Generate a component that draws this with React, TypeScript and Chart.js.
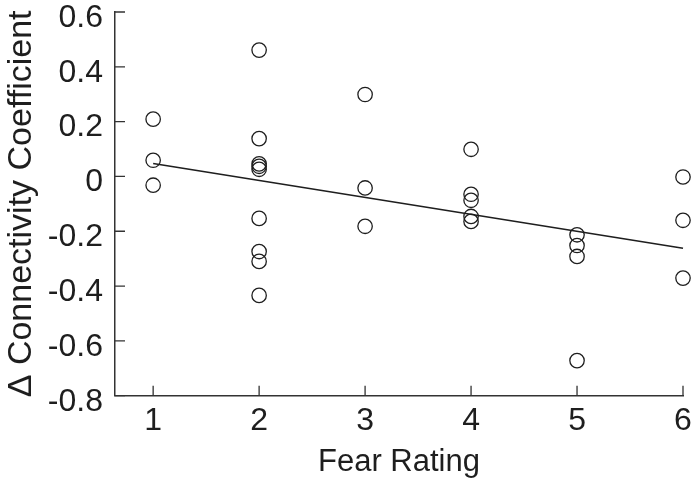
import React, { useEffect, useRef } from "react";
import { Chart, registerables } from "chart.js";

Chart.register(...registerables);

// Fear rating (x) and change in connectivity coefficient (y) per subject
const fear1 = [0.209, 0.059, -0.032];
const fear2 = [0.461, 0.138, 0.046, 0.037, 0.026, -0.153, -0.274, -0.31, -0.434];
const fear3 = [0.299, -0.042, -0.182];
const fear4 = [0.099, -0.065, -0.087, -0.146, -0.164];
const fear5 = [-0.213, -0.252, -0.292, -0.672];
const fear6 = [-0.002, -0.16, -0.371];
const fearRatings = [1, 2, 3, 4, 5, 6];

// Regression line end points
const fitX = [1, 6];
const fitY = [0.047, -0.262];

const xTicks = [1, 2, 3, 4, 5, 6];
const yTicks = [-0.8, -0.6, -0.4, -0.2, 0, 0.2, 0.4, 0.6];

const xTitle = "Fear Rating";
const yTitle = "\u0394 Connectivity Coefficient";

const INK = "#1e1e1e";
const AXIS = "#333333";
const FONT = "'Liberation Sans', Arial, sans-serif";

const inwardTicks = {
  id: "inwardTicks",
  afterDraw(chart: any) {
    const { ctx, chartArea, scales } = chart;
    ctx.save();
    ctx.strokeStyle = AXIS;
    ctx.lineWidth = 1.3;
    ctx.beginPath();
    for (const v of xTicks) {
      const px = scales.x.getPixelForValue(v);
      ctx.moveTo(px, chartArea.bottom);
      ctx.lineTo(px, chartArea.bottom - 10);
    }
    for (const v of yTicks) {
      const py = scales.y.getPixelForValue(v);
      ctx.moveTo(chartArea.left, py);
      ctx.lineTo(chartArea.left + 10, py);
    }
    ctx.stroke();
    ctx.restore();
  },
};

export default function App() {
  const ref = useRef<HTMLCanvasElement | null>(null);

  useEffect(() => {
    if (!ref.current) return;
    const groups = [fear1, fear2, fear3, fear4, fear5, fear6];
    const points: { x: number; y: number }[] = [];
    groups.forEach((g, i) => g.forEach((y) => points.push({ x: fearRatings[i], y })));
    const fit = fitX.map((x, i) => ({ x, y: fitY[i] }));

    const chart = new Chart(ref.current, {
      type: "scatter",
      data: {
        datasets: [
          {
            type: "line",
            data: fit,
            borderColor: INK,
            borderWidth: 1.6,
            pointRadius: 0,
            fill: false,
            clip: false,
          } as any,
          {
            type: "scatter",
            data: points,
            pointStyle: "circle",
            pointRadius: 7.2,
            pointBorderWidth: 1.3,
            borderColor: INK,
            backgroundColor: "rgba(0,0,0,0)",
            clip: false,
          } as any,
        ],
      },
      options: {
        animation: false,
        responsive: false,
        events: [],
        layout: { padding: { top: 12, right: 17, bottom: 0, left: 0 } },
        plugins: { legend: { display: false }, tooltip: { enabled: false } },
        scales: {
          x: {
            type: "linear",
            min: 0.64,
            max: 6,
            grid: { display: false, drawTicks: false },
            border: { display: true, color: AXIS, width: 1.5 },
            afterBuildTicks: (s: any) => {
              s.ticks = xTicks.map((v) => ({ value: v }));
            },
            afterFit: (s: any) => {
              s.height = 85.3;
              s.paddingLeft = 0;
              s.paddingRight = 0;
            },
            ticks: {
              color: INK,
              padding: 6,
              maxRotation: 0,
              font: { family: FONT, size: 32 },
              callback: (v: any) => String(v),
            },
            title: {
              display: true,
              text: xTitle,
              color: INK,
              padding: { top: 0, bottom: 0 },
              font: { family: FONT, size: 31 },
            },
          },
          y: {
            type: "linear",
            min: -0.8,
            max: 0.6,
            grid: { display: false, drawTicks: false },
            border: { display: true, color: AXIS, width: 1.5 },
            afterBuildTicks: (s: any) => {
              s.ticks = yTicks.map((v) => ({ value: v }));
            },
            afterFit: (s: any) => {
              s.width = 115;
              s.paddingTop = 0;
              s.paddingBottom = 0;
            },
            ticks: {
              color: INK,
              padding: 12,
              labelOffset: 6,
              font: { family: FONT, size: 32 },
              callback: (v: any) => String(Math.round(Number(v) * 10) / 10),
            },
            title: {
              display: true,
              text: yTitle,
              color: INK,
              padding: { top: 1, bottom: 0 },
              font: { family: FONT, size: 34 },
            },
          },
        },
      },
      plugins: [inwardTicks],
    });
    return () => chart.destroy();
  }, []);

  return (
    <div style={{ position: "absolute", left: 0, top: 0, width: 700, height: 481, background: "#fff" }}>
      <canvas ref={ref} width={700} height={481} />
    </div>
  );
}
